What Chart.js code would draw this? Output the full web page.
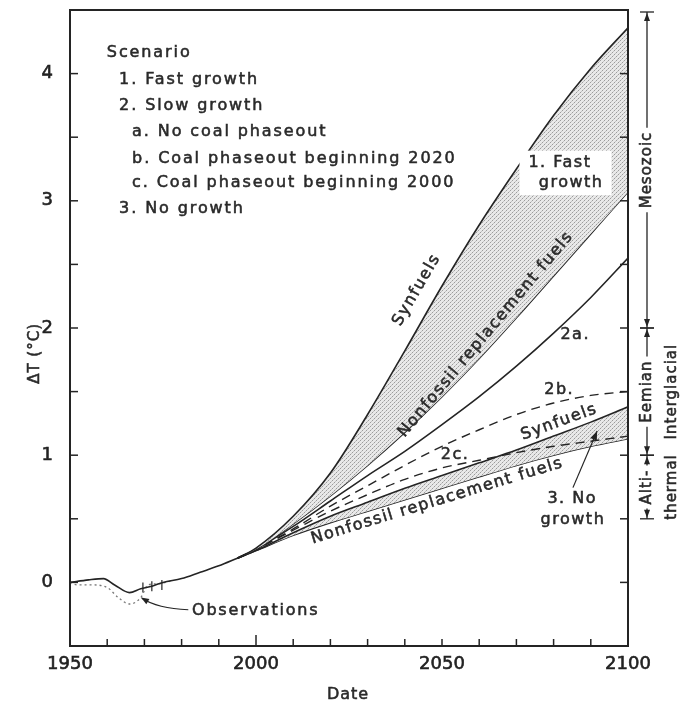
<!DOCTYPE html>
<html><head><meta charset="utf-8">
<script src="https://cdn.jsdelivr.net/npm/chart.js@4.4.1/dist/chart.umd.min.js"></script>
<style>html,body{margin:0;padding:0;background:#fff;}#wrap{width:680px;height:704px;}</style>
</head><body><div id="wrap"><canvas id="c" width="680" height="704"></canvas></div>
<script>
// ---------- data ----------
const projYears     = [1995, 2000, 2010, 2020, 2030, 2040, 2050, 2060, 2070, 2080, 2090, 2100];
const fastSynfuels  = [0.19, 0.27, 0.52, 0.86, 1.32, 1.82, 2.33, 2.81, 3.25, 3.67, 4.04, 4.36];
const fastNonfossil = [0.19, 0.26, 0.46, 0.68, 0.92, 1.18, 1.46, 1.76, 2.08, 2.41, 2.74, 3.07];
const slow2a        = [0.19, 0.26, 0.44, 0.64, 0.84, 1.03, 1.24, 1.46, 1.70, 1.96, 2.24, 2.55];
const slow2b        = [0.19, 0.26, 0.42, 0.60, 0.76, 0.92, 1.07, 1.20, 1.32, 1.41, 1.47, 1.50];
const slow2c        = [0.19, 0.26, 0.41, 0.56, 0.69, 0.81, 0.90, 0.96, 1.02, 1.07, 1.11, 1.15];
const lowSynfuels   = [0.19, 0.25, 0.39, 0.52, 0.63, 0.74, 0.84, 0.94, 1.04, 1.15, 1.26, 1.38];
const lowNonfossil  = [0.19, 0.25, 0.37, 0.47, 0.56, 0.65, 0.74, 0.83, 0.92, 1.00, 1.07, 1.13];

const histYears = [1950, 1955, 1959, 1962, 1966, 1969, 1972, 1975, 1980, 1985, 1990, 1995];
const histModel = [0.00, 0.02, 0.03, -0.02, -0.08, -0.05, -0.03, 0.00, 0.03, 0.08, 0.13, 0.19];

const obsYears  = [1950, 1952, 1956, 1960, 1963, 1966, 1969, 1971, 1974, 1977];
const obsValues = [0.00, -0.02, -0.02, -0.04, -0.12, -0.17, -0.12, -0.02, -0.01, 0.01];

const errYears  = [1969.6, 1972.0, 1974.7];
const errValues = [-0.04, -0.03, -0.02];

const xTickValues = [1950,1960,1970,1980,1990,2000,2010,2020,2030,2040,2050,2060,2070,2080,2090,2100];
const xTickLabels = [1950, 2000, 2050, 2100];
const yTickValues = [-0.5,0,0.5,1,1.5,2,2.5,3,3.5,4,4.5];
const yTickLabels = [0, 1, 2, 3, 4];

const scenarioLines = ['Scenario','1. Fast growth','2. Slow growth','a. No coal phaseout',
  'b. Coal phaseout beginning 2020','c. Coal phaseout beginning 2000','3. No growth'];

// ---------- helpers ----------
const pts = (xs, ys) => xs.map((x, i) => ({x, y: ys[i]}));
const INK = '#242424';

const pc = document.createElement('canvas');
pc.width = 4; pc.height = 4;
const pctx = pc.getContext('2d');
pctx.fillStyle = '#e9e9e9'; pctx.fillRect(0,0,4,4);
pctx.fillStyle = '#9c9c9c'; pctx.fillRect(0,0,1,1); pctx.fillRect(2,2,1,1);
pctx.fillStyle = '#c4c4c4'; pctx.fillRect(1,3,1,1); pctx.fillRect(3,1,1,1);
const stipple = document.getElementById('c').getContext('2d').createPattern(pc, 'repeat');

function lineDs(data, extra) {
  return Object.assign({data, borderColor: INK, borderWidth: 1.6, pointRadius: 0,
    cubicInterpolationMode: 'monotone', fill: false}, extra || {});
}

function txt(ctx, s, px, py, o) {
  o = o || {};
  ctx.save();
  ctx.translate(px, py);
  ctx.rotate((o.rot || 0) * Math.PI / 180);
  ctx.font = (o.size || 16) + 'px "DejaVu Sans"';
  try { ctx.letterSpacing = (o.sp === undefined ? 1.5 : o.sp) + 'px'; } catch (e) {}
  ctx.textAlign = o.align || 'center';
  ctx.textBaseline = 'middle';
  ctx.fillStyle = '#2a2a2a';
  ctx.strokeStyle = '#2a2a2a';
  ctx.lineWidth = 0.55;
  ctx.fillText(s, 0, 0);
  ctx.strokeText(s, 0, 0);
  ctx.restore();
}
function seg(ctx, x1, y1, x2, y2) { ctx.beginPath(); ctx.moveTo(x1, y1); ctx.lineTo(x2, y2); ctx.stroke(); }
function arrowHead(ctx, tx, ty, fx, fy, len, half) {
  const ang = Math.atan2(ty - fy, tx - fx);
  ctx.beginPath();
  ctx.moveTo(tx, ty);
  ctx.lineTo(tx - len * Math.cos(ang) + half * Math.sin(ang), ty - len * Math.sin(ang) - half * Math.cos(ang));
  ctx.lineTo(tx - len * Math.cos(ang) - half * Math.sin(ang), ty - len * Math.sin(ang) + half * Math.cos(ang));
  ctx.closePath(); ctx.fill();
}

// annotations in data coordinates
const labels = [
  {t: 'Synfuels', x: 2043.2, y: 2.30, rot: -60},
  {t: 'Nonfossil replacement fuels', x: 2061.8, y: 1.95, rot: -50},
  {t: '2a.', x: 2085.8, y: 1.95},
  {t: '2b.', x: 2081.5, y: 1.51},
  {t: 'Synfuels', x: 2081.5, y: 1.26, rot: -20},
  {t: '2c.', x: 2053.5, y: 1.00},
  {t: 'Nonfossil replacement fuels', x: 2048.7, y: 0.64, rot: -17},
  {t: '3. No', x: 2085.0, y: 0.66},
  {t: 'growth', x: 2085.2, y: 0.49},
];
const scenarioX = [1959.9, 1963.2, 1963.2, 1966.7, 1966.7, 1966.7, 1963.2];
const scenarioY = [4.165, 3.95, 3.75, 3.54, 3.33, 3.14, 2.94];
const periods = [
  {from: 2.0, to: 4.5, t1: 'Mesozoic', t2: ''},
  {from: 1.0, to: 2.0, t1: 'Eemian', t2: 'Interglacial'},
  {from: 0.5, to: 1.0, t1: 'Alti-', t2: 'thermal'},
];

const decor = {
  id: 'decor',
  afterDraw(chart) {
    const {ctx, chartArea: a, scales: {x, y}} = chart;
    const X = v => x.getPixelForValue(v), Y = v => y.getPixelForValue(v);
    ctx.save();
    ctx.strokeStyle = INK; ctx.fillStyle = INK;
    // frame
    ctx.lineWidth = 2;
    ctx.strokeRect(a.left, a.top, a.right - a.left, a.bottom - a.top);
    ctx.lineWidth = 1.5;
    yTickValues.forEach(v => {
      const py = Y(v);
      seg(ctx, a.left, py, a.left + 8, py);
      seg(ctx, a.right, py, a.right - 8, py);
    });
    xTickValues.forEach(v => {
      const px = X(v);
      seg(ctx, px, a.bottom, px, a.bottom - (v === 2000 ? 11 : 7));
    });
    // 1. Fast growth box
    const bx = X(2083.2), by1 = Y(3.30), by2 = Y(3.14);
    ctx.fillStyle = '#ffffff';
    ctx.fillRect(bx - 46, by1 - 12, 92, by2 - by1 + 24);
    ctx.fillStyle = INK;
    txt(ctx, '1. Fast', X(2081.7), by1, {size: 16});
    txt(ctx, 'growth', X(2084.7), by2, {size: 16});
    // curve labels
    labels.forEach(l => txt(ctx, l.t, X(l.x), Y(l.y), {size: 16, rot: l.rot || 0}));
    // scenario block
    scenarioLines.forEach((s, i) => txt(ctx, s, X(scenarioX[i]), Y(scenarioY[i]), {size: 16, align: 'left', sp: 1.9}));
    // no growth arrow
    ctx.strokeStyle = INK; ctx.fillStyle = INK;
    ctx.lineWidth = 1.2;
    const ax1 = X(2085.2), ay1 = Y(0.745), ax2 = X(2091.7), ay2 = Y(1.19);
    seg(ctx, ax1, ay1, ax2, ay2);
    arrowHead(ctx, ax2, ay2, ax1, ay1, 9, 3.5);
    // observations leader
    ctx.beginPath();
    ctx.moveTo(X(1969.3), Y(-0.125));
    ctx.quadraticCurveTo(X(1973.5), Y(-0.205), X(1981.8), Y(-0.215));
    ctx.stroke();
    arrowHead(ctx, X(1969.1), Y(-0.118), X(1972), Y(-0.17), 8, 3);
    txt(ctx, 'Observations', X(1982.8), Y(-0.22), {size: 16, align: 'left', sp: 1.8});
    // right side periods
    const cx = a.right + 19, cx2 = a.right + 44;
    periods.forEach(p => {
      const top = p.to >= 4.5 ? a.top + 2 : Y(p.to), bot = Y(p.from);
      const mid = (top + bot) / 2;
      ctx.font = '15px "DejaVu Sans"';
      try { ctx.letterSpacing = '1px'; } catch (e) {}
      const w = ctx.measureText(p.t1).width;
      ctx.strokeStyle = INK; ctx.fillStyle = INK; ctx.lineWidth = 1.3;
      seg(ctx, cx - 7, top, cx + 7, top);
      seg(ctx, cx - 7, bot, cx + 7, bot);
      seg(ctx, cx, top, cx, mid - w / 2 - 4);
      seg(ctx, cx, mid + w / 2 + 4, cx, bot);
      arrowHead(ctx, cx, top + 1, cx, top + 10, 8, 3);
      arrowHead(ctx, cx, bot - 1, cx, bot - 10, 8, 3);
      txt(ctx, p.t1, cx, mid, {size: 15, rot: -90, sp: 1});
      if (p.t2) txt(ctx, p.t2, cx2, mid, {size: 15, rot: -90, sp: 1});
    });
    // axis titles
    txt(ctx, 'ΔT (°C)', 35, Y(1.8), {size: 15, rot: -90, sp: 1});
    txt(ctx, 'Date', 348, 695, {size: 16, sp: 1});
    ctx.restore();
  }
};

new Chart(document.getElementById('c'), {
  type: 'line',
  data: {
    datasets: [
      lineDs(pts(projYears, fastSynfuels), {fill: {target: 1}, backgroundColor: stipple}),
      lineDs(pts(projYears, fastNonfossil)),
      lineDs(pts(projYears, slow2a)),
      lineDs(pts(projYears, slow2b), {borderDash: [9, 6], borderWidth: 1.4}),
      lineDs(pts(projYears, slow2c), {borderDash: [9, 6], borderWidth: 1.4}),
      lineDs(pts(projYears, lowSynfuels), {fill: {target: 6}, backgroundColor: stipple}),
      lineDs(pts(projYears, lowNonfossil)),
      lineDs(pts(histYears, histModel)),
      lineDs(pts(obsYears, obsValues), {borderDash: [2, 3], borderColor: '#777', borderWidth: 1.3}),
      {type: 'scatter', data: pts(errYears, errValues), pointStyle: 'line', rotation: 90,
        pointRadius: 5, borderColor: INK, borderWidth: 1.2, showLine: false}
    ]
  },
  options: {
    responsive: false, animation: false, devicePixelRatio: 1,
    layout: {padding: {top: 10, right: 52, left: 0, bottom: 0}},
    plugins: {legend: {display: false}, tooltip: {enabled: false}},
    scales: {
      x: {
        type: 'linear', min: 1950, max: 2100,
        grid: {display: false, drawTicks: false}, border: {display: false},
        afterFit: s => { s.height = 58; s.paddingLeft = 0; s.paddingRight = 0; },
        ticks: {stepSize: 10, autoSkip: false, maxRotation: 0, padding: 8, color: '#222222',
          textStrokeColor: '#222222', textStrokeWidth: 0.6,
          font: {family: 'DejaVu Sans', size: 18},
          callback: v => xTickLabels.includes(v) ? String(v) : ''}
      },
      y: {
        type: 'linear', min: -0.5, max: 4.5,
        grid: {display: false, drawTicks: false}, border: {display: false},
        afterFit: s => { s.width = 70; s.paddingTop = 0; s.paddingBottom = 0; },
        ticks: {stepSize: 0.5, autoSkip: false, padding: 17, color: '#222222',
          textStrokeColor: '#222222', textStrokeWidth: 0.6,
          font: {family: 'DejaVu Sans', size: 18},
          callback: v => yTickLabels.includes(v) ? String(v) : ''}
      }
    }
  },
  plugins: [decor]
});
</script></body></html>
